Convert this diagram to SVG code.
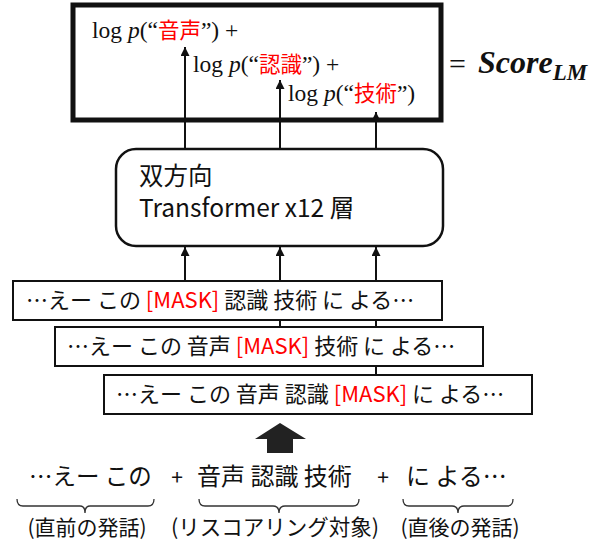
<svg xmlns="http://www.w3.org/2000/svg" width="606" height="548" viewBox="0 0 606 548">
<defs>
<style>
.jp{font-family:"Noto Sans CJK JP","Noto Sans",sans-serif;fill:#111;}
.math{font-family:"Liberation Serif",serif;font-size:23.5px;fill:#111;}
.red{fill:#ff0000;font-family:"Noto Sans CJK JP",sans-serif;font-size:21.5px;}
.mred{fill:#ff0000;}
.box{fill:#fff;stroke:#111;stroke-width:2;}
.conn{stroke:#111;stroke-width:2;fill:none;}
.brace{stroke:#333;stroke-width:1.3;fill:none;}
</style>
<marker id="ah" viewBox="0 0 10 10" refX="10" refY="5" markerWidth="10" markerHeight="9" markerUnits="userSpaceOnUse" orient="auto">
<path d="M0,0 L10,5 L0,10 Z" fill="#111"/>
</marker>
</defs>
<rect width="606" height="548" fill="#fff"/>

<g id="connectors">
<line class="conn" x1="185" y1="149" x2="185" y2="47" marker-end="url(#ah)"/>
<line class="conn" x1="280" y1="149" x2="280" y2="80" marker-end="url(#ah)"/>
<line class="conn" x1="376" y1="149" x2="376" y2="112" marker-end="url(#ah)"/>
<line class="conn" x1="185" y1="281" x2="185" y2="247" marker-end="url(#ah)"/>
<line class="conn" x1="280" y1="327" x2="280" y2="247" marker-end="url(#ah)"/>
<line class="conn" x1="376" y1="375" x2="376" y2="247" marker-end="url(#ah)"/>
</g>

<g id="lm-score-box">
<rect x="73" y="5" width="368" height="115" fill="none" stroke="#111" stroke-width="5"/>
<text class="math" x="92" y="38">log <tspan font-style="italic">p</tspan>(“<tspan class="red">音声</tspan>”) +</text>
<text class="math" x="193" y="72">log <tspan font-style="italic">p</tspan>(“<tspan class="red">認識</tspan>”) +</text>
<text class="math" x="288" y="101">log <tspan font-style="italic">p</tspan>(“<tspan class="red">技術</tspan>”)</text>
</g>

<g id="score-lm">
<text x="449" y="74" font-family="Liberation Serif,serif" font-size="30" fill="#111">=</text>
<text x="478" y="73" font-family="Liberation Serif,serif" font-size="32" font-weight="bold" font-style="italic" fill="#111">Score<tspan font-size="23" dy="7">LM</tspan></text>
</g>

<g id="transformer">
<rect x="116" y="149" width="327" height="97" rx="20" ry="20" fill="#fff" stroke="#111" stroke-width="2.5"/>
<text class="jp" x="139" y="185" font-size="24.5">双方向</text>
<text class="jp" x="139" y="217" font-size="24.5">Transformer x12 層</text>
</g>

<g id="mask-input-1">
<rect class="box" x="13" y="281" width="429" height="39"/>
<text class="jp" x="26" y="308" font-size="22">…えー この <tspan class="mred">[MASK]</tspan> 認識 技術 に よる…</text>
</g>

<g id="mask-input-2">
<rect class="box" x="55" y="327" width="428" height="39"/>
<text class="jp" x="67" y="354" font-size="22">…えー この 音声 <tspan class="mred">[MASK]</tspan> 技術 に よる…</text>
</g>

<g id="mask-input-3">
<rect class="box" x="104" y="375" width="428" height="39"/>
<text class="jp" x="116" y="402" font-size="22">…えー この 音声 認識 <tspan class="mred">[MASK]</tspan> に よる…</text>
</g>

<g id="big-arrow">
<polygon points="280,423 306,439 293,439 293,453 267,453 267,439 255,439" fill="#222"/>
</g>

<g id="utterance">
<text class="jp" x="29" y="485" font-size="23.5">…えー この</text>
<text class="jp" x="177" y="485" font-size="21" text-anchor="middle">+</text>
<text class="jp" x="197" y="485" font-size="24">音声 認識 技術</text>
<text class="jp" x="383" y="485" font-size="21" text-anchor="middle">+</text>
<text class="jp" x="406" y="485" font-size="24">に よる…</text>
</g>

<g id="braces">
<path class="brace" d="M17,499 Q17,506 23,506 L80,506 Q85,506 85,513 Q85,506 90,506 L148,506 Q154,506 154,499"/>
<path class="brace" d="M199,499 Q199,506 205,506 L273,506 Q279,506 279,513 Q279,506 285,506 L353,506 Q359,506 359,499"/>
<path class="brace" d="M403,499 Q403,506 409,506 L452,506 Q458,506 458,513 Q458,506 464,506 L507,506 Q513,506 513,499"/>
</g>

<g id="labels">
<text class="jp" x="87" y="535" font-size="21" text-anchor="middle">(直前の発話)</text>
<text class="jp" x="275" y="535" font-size="21.5" text-anchor="middle">(リスコアリング対象)</text>
<text class="jp" x="460" y="535" font-size="21" text-anchor="middle">(直後の発話)</text>
</g>
</svg>
